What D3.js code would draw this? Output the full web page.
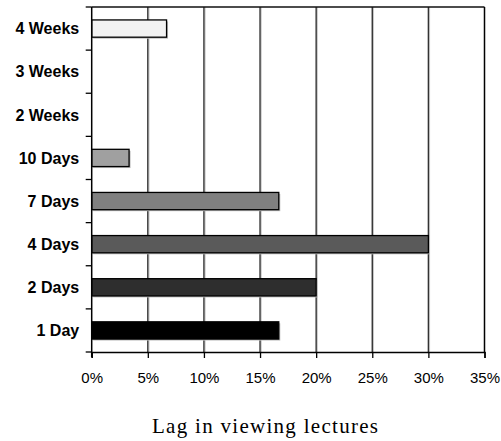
<!DOCTYPE html>
<html>
<head>
<meta charset="utf-8">
<script src="https://cdn.jsdelivr.net/npm/d3@7"></script>
<style>
  html, body { margin: 0; padding: 0; background: #fff; }
  svg { display: block; }
</style>
</head>
<body>
<svg id="chart" width="501" height="441"></svg>
<script>
// Share of viewers by lag in watching lectures (percent)
const categories = ["4 Weeks", "3 Weeks", "2 Weeks", "10 Days", "7 Days", "4 Days", "2 Days", "1 Day"];
const values = [6.67, 0, 0, 3.33, 16.67, 30, 20, 16.67];
const fills = ["#f2f2f2", "#ffffff", "#ffffff", "#a0a0a0", "#808080", "#5a5a5a", "#2e2e2e", "#000000"];
const xTicks = [0, 5, 10, 15, 20, 25, 30, 35];
const xTitle = "Lag in viewing lectures";

const svg = d3.select("#chart");
const W = 501, H = 441;
const margin = { top: 7, right: 16.5, bottom: 89, left: 91.7 };
const iw = W - margin.left - margin.right;
const ih = H - margin.top - margin.bottom;

const g = svg.append("g").attr("transform", `translate(${margin.left},${margin.top})`);

const x = d3.scaleLinear().domain([0, 35]).range([0, iw]);
const y = d3.scaleBand().domain(categories).range([0, ih]).paddingInner(0.6).paddingOuter(0.3);

// vertical gridlines with a faint shadow
const gridVals = xTicks.filter(t => t > 0 && t < 35);
g.selectAll("line.gshadow").data(gridVals).join("line")
  .attr("x1", d => x(d) + 1.2).attr("x2", d => x(d) + 1.2)
  .attr("y1", 0).attr("y2", ih)
  .attr("stroke", "#c8c8c8").attr("stroke-width", 1);
g.selectAll("line.grid").data(gridVals).join("line")
  .attr("x1", d => x(d)).attr("x2", d => x(d))
  .attr("y1", 0).attr("y2", ih)
  .attr("stroke", "#333").attr("stroke-width", 1.4);

// top and right frame
g.append("line").attr("x1", 0).attr("x2", x(35)).attr("y1", 0).attr("y2", 0)
  .attr("stroke", "#111").attr("stroke-width", 1.5);
g.append("line").attr("x1", x(35)).attr("x2", x(35)).attr("y1", 0).attr("y2", ih)
  .attr("stroke", "#000").attr("stroke-width", 1.5);

// bars: shadow then bar
const data = categories.map((c, i) => ({ c, v: values[i], f: fills[i] })).filter(d => d.v > 0);
g.selectAll("rect.shadow").data(data).join("rect")
  .attr("x", 1.5).attr("y", d => y(d.c) + 1.5)
  .attr("width", d => x(d.v)).attr("height", y.bandwidth())
  .attr("fill", "#bdbdbd");
g.selectAll("rect.bar").data(data).join("rect")
  .attr("x", 0).attr("y", d => y(d.c))
  .attr("width", d => x(d.v)).attr("height", y.bandwidth())
  .attr("fill", d => d.f).attr("stroke", "#000").attr("stroke-width", 1.3);

// y axis: ticks at band boundaries, labels at band centres
const bounds = d3.range(categories.length + 1).map(i => i * ih / categories.length);
g.selectAll("line.ytick").data(bounds).join("line")
  .attr("x1", -6).attr("x2", 0).attr("y1", d => d).attr("y2", d => d)
  .attr("stroke", "#000").attr("stroke-width", 1.3);
g.append("line").attr("x1", 0).attr("x2", 0).attr("y1", 0).attr("y2", ih + 5)
  .attr("stroke", "#000").attr("stroke-width", 1.5);
g.selectAll("text.ylab").data(categories).join("text")
  .attr("x", -12.5).attr("y", d => y(d) + y.bandwidth() / 2)
  .attr("dy", "0.36em")
  .attr("text-anchor", "end")
  .attr("font-family", "Liberation Sans, Arial, sans-serif")
  .attr("font-weight", "bold").attr("font-size", 16)
  .attr("fill", "#000")
  .text(d => d);

// x axis
const xAxis = d3.axisBottom(x).tickValues(xTicks).tickFormat(d => d + "%").tickSize(6).tickPadding(14);
const xa = g.append("g").attr("transform", `translate(0,${ih})`).call(xAxis);
xa.select(".domain").attr("stroke", "#000").attr("stroke-width", 1.5);
xa.selectAll(".tick line").attr("stroke", "#000").attr("stroke-width", 1.3);
xa.selectAll(".tick text")
  .attr("font-family", "Liberation Sans, Arial, sans-serif")
  .attr("font-size", 15).attr("fill", "#000");

// axis title
svg.append("text")
  .attr("x", 265).attr("y", 433)
  .attr("text-anchor", "middle")
  .attr("font-family", "Liberation Serif, 'DejaVu Serif', serif")
  .attr("font-size", 21).attr("fill", "#000")
  .attr("textLength", 226).attr("lengthAdjust", "spacing")
  .text(xTitle);
</script>
</body>
</html>
